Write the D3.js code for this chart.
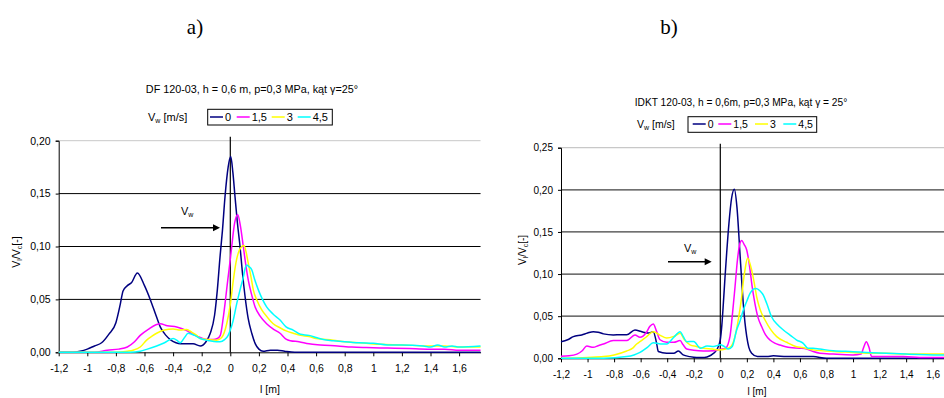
<!DOCTYPE html>
<html><head><meta charset="utf-8">
<script src="https://cdn.jsdelivr.net/npm/d3@7"></script>
<style>
body{margin:0;background:#fff;}
svg{display:block;font-family:"Liberation Sans",Arial,sans-serif;}
</style></head>
<body>
<svg id="c" width="944" height="398"></svg>
<script>
// ---------- data ----------
const seriesNames = ["0", "1,5", "3", "4,5"];
const seriesColors = ["#000080", "#FF00FF", "#FFFF00", "#00FFFF"];
const xTicks = [-1.2,-1,-0.8,-0.6,-0.4,-0.2,0,0.2,0.4,0.6,0.8,1,1.2,1.4,1.6];
const yTicksA = [0,0.05,0.10,0.15,0.20];
const yTicksB = [0,0.05,0.10,0.15,0.20,0.25];

// chart a) DF 120-03  [l (m), Vl/Vc]
const a0 = [[-1.2,0],[-1.1,0],[-1.05,0.001],[-1.0,0.003],[-0.95,0.006],[-0.9,0.009],[-0.85,0.017],[-0.8,0.028],[-0.77,0.045],[-0.75,0.058],[-0.72,0.063],[-0.69,0.066],[-0.65,0.075],[-0.6,0.063],[-0.56,0.05],[-0.52,0.035],[-0.49,0.024],[-0.45,0.016],[-0.42,0.012],[-0.38,0.009],[-0.35,0.008],[-0.3,0.008],[-0.26,0.008],[-0.21,0.006],[-0.17,0.01],[-0.14,0.018],[-0.11,0.035],[-0.09,0.06],[-0.072,0.09],[-0.055,0.115],[-0.037,0.147],[-0.015,0.175],[0.003,0.185],[0.018,0.17],[0.033,0.147],[0.05,0.122],[0.068,0.10],[0.085,0.075],[0.103,0.053],[0.125,0.032],[0.15,0.018],[0.175,0.008],[0.2,0.003],[0.23,0.001],[0.28,0.002],[0.33,0.002],[0.38,0.001],[0.45,0],[1.75,0]];
const a1 = [[-1.2,0],[-0.95,0],[-0.86,0.002],[-0.78,0.003],[-0.72,0.005],[-0.67,0.01],[-0.63,0.016],[-0.57,0.022],[-0.52,0.026],[-0.49,0.027],[-0.44,0.025],[-0.375,0.024],[-0.305,0.0205],[-0.26,0.017],[-0.21,0.014],[-0.16,0.012],[-0.12,0.012],[-0.09,0.013],[-0.07,0.016],[-0.05,0.032],[-0.035,0.048],[-0.018,0.068],[0.0,0.088],[0.01,0.10],[0.03,0.122],[0.052,0.130],[0.07,0.12],[0.091,0.10],[0.108,0.083],[0.126,0.068],[0.15,0.054],[0.173,0.043],[0.21,0.034],[0.254,0.027],[0.3,0.022],[0.348,0.018],[0.39,0.0125],[0.42,0.011],[0.48,0.010],[0.55,0.008],[0.63,0.007],[0.75,0.006],[0.85,0.005],[0.95,0.0045],[1.1,0.004],[1.25,0.0035],[1.38,0.003],[1.5,0.003],[1.6,0.002],[1.75,0.002]];
const a2 = [[-1.2,0],[-0.8,0],[-0.72,0.001],[-0.68,0.002],[-0.63,0.005],[-0.585,0.0115],[-0.55,0.015],[-0.515,0.018],[-0.46,0.021],[-0.4,0.022],[-0.35,0.021],[-0.305,0.0215],[-0.27,0.019],[-0.235,0.016],[-0.21,0.013],[-0.15,0.012],[-0.095,0.0115],[-0.06,0.014],[-0.025,0.027],[0.0,0.045],[0.021,0.068],[0.04,0.085],[0.056,0.094],[0.08,0.1],[0.096,0.101],[0.11,0.095],[0.126,0.084],[0.145,0.071],[0.161,0.059],[0.19,0.048],[0.22,0.04],[0.26,0.033],[0.3,0.027],[0.35,0.023],[0.395,0.02],[0.44,0.018],[0.49,0.016],[0.55,0.015],[0.6,0.013],[0.72,0.0115],[0.8,0.01],[0.95,0.0085],[1.05,0.0075],[1.2,0.007],[1.38,0.006],[1.5,0.006],[1.6,0.005],[1.75,0.005]];
const a3 = [[-1.2,0],[-0.7,0],[-0.63,0.001],[-0.58,0.003],[-0.515,0.006],[-0.46,0.009],[-0.4,0.013],[-0.37,0.011],[-0.35,0.009],[-0.32,0.014],[-0.295,0.018],[-0.25,0.016],[-0.21,0.013],[-0.15,0.011],[-0.095,0.01],[-0.072,0.010],[-0.04,0.012],[-0.015,0.016],[0.0,0.021],[0.02,0.03],[0.045,0.046],[0.07,0.06],[0.091,0.071],[0.105,0.08],[0.115,0.0825],[0.13,0.081],[0.15,0.078],[0.17,0.069],[0.196,0.059],[0.225,0.05],[0.254,0.043],[0.3,0.036],[0.348,0.0305],[0.39,0.024],[0.44,0.021],[0.49,0.017],[0.55,0.016],[0.6,0.014],[0.65,0.012],[0.72,0.011],[0.8,0.01],[0.9,0.009],[1.0,0.0085],[1.1,0.007],[1.2,0.007],[1.35,0.006],[1.4,0.005],[1.45,0.007],[1.5,0.005],[1.55,0.006],[1.6,0.005],[1.75,0.006]];

// chart b) IDKT 120-03
const b0 = [[-1.2,0.0197],[-1.15,0.022],[-1.107,0.0257],[-1.044,0.0277],[-1.0,0.03],[-0.957,0.0316],[-0.92,0.031],[-0.88,0.029],[-0.806,0.0277],[-0.75,0.028],[-0.705,0.028],[-0.643,0.0336],[-0.6,0.032],[-0.58,0.031],[-0.54,0.030],[-0.505,0.0316],[-0.48,0.018],[-0.467,0.008],[-0.404,0.006],[-0.35,0.006],[-0.316,0.0087],[-0.28,0.004],[-0.23,0.002],[-0.178,0.001],[-0.12,0.001],[-0.078,0.003],[-0.027,0.01],[0.0,0.022],[0.012,0.04],[0.023,0.065],[0.035,0.095],[0.048,0.125],[0.065,0.16],[0.085,0.19],[0.106,0.2007],[0.125,0.18],[0.148,0.125],[0.16,0.095],[0.173,0.065],[0.186,0.042],[0.199,0.026],[0.215,0.013],[0.236,0.006],[0.28,0.002],[0.35,0.002],[0.4,0.003],[0.5,0.002],[0.6,0.002],[0.7,0.002],[0.8,0.0],[1.75,0]];
const b1 = [[-1.2,0.0025],[-1.14,0.003],[-1.08,0.005],[-1.04,0.009],[-1.006,0.0146],[-0.957,0.013],[-0.92,0.015],[-0.88,0.017],[-0.806,0.021],[-0.75,0.021],[-0.705,0.021],[-0.643,0.0277],[-0.605,0.025],[-0.56,0.03],[-0.53,0.038],[-0.505,0.0407],[-0.48,0.032],[-0.454,0.022],[-0.404,0.019],[-0.35,0.019],[-0.303,0.021],[-0.28,0.016],[-0.253,0.011],[-0.2,0.0095],[-0.128,0.0087],[-0.05,0.009],[0.0,0.0107],[0.04,0.012],[0.073,0.026],[0.09,0.05],[0.111,0.085],[0.13,0.118],[0.148,0.1366],[0.161,0.1397],[0.18,0.135],[0.199,0.1286],[0.212,0.118],[0.224,0.105],[0.24,0.085],[0.261,0.065],[0.285,0.048],[0.312,0.0375],[0.34,0.028],[0.374,0.0217],[0.41,0.018],[0.45,0.0157],[0.525,0.0127],[0.6,0.012],[0.65,0.011],[0.7,0.008],[0.75,0.006],[0.85,0.005],[1.0,0.004],[1.06,0.005],[1.08,0.013],[1.1,0.0197],[1.12,0.013],[1.14,0.002],[1.25,0.002],[1.38,0.002],[1.5,0.001],[1.75,0.001]];
const b2 = [[-1.2,0],[-1.0,0.001],[-0.88,0.002],[-0.8,0.004],[-0.705,0.0087],[-0.66,0.012],[-0.63,0.017],[-0.605,0.0197],[-0.56,0.025],[-0.505,0.0316],[-0.45,0.027],[-0.404,0.024],[-0.35,0.026],[-0.303,0.0296],[-0.27,0.022],[-0.228,0.016],[-0.18,0.014],[-0.128,0.012],[-0.06,0.011],[-0.01,0.01],[0.04,0.011],[0.08,0.014],[0.111,0.026],[0.14,0.05],[0.161,0.073],[0.175,0.093],[0.186,0.105],[0.206,0.119],[0.22,0.114],[0.236,0.105],[0.255,0.09],[0.274,0.073],[0.3,0.058],[0.337,0.0455],[0.38,0.034],[0.425,0.0257],[0.5,0.019],[0.575,0.0138],[0.62,0.0127],[0.7,0.01],[0.877,0.0079],[1.0,0.007],[1.1,0.006],[1.25,0.006],[1.4,0.005],[1.75,0.005]];
const b3 = [[-1.2,0],[-0.88,0],[-0.705,0.002],[-0.65,0.004],[-0.605,0.007],[-0.55,0.013],[-0.505,0.0185],[-0.45,0.017],[-0.404,0.017],[-0.35,0.025],[-0.303,0.0316],[-0.28,0.026],[-0.253,0.0197],[-0.2,0.02],[-0.15,0.012],[-0.1,0.0146],[-0.05,0.014],[0.0,0.016],[0.03,0.014],[0.06,0.011],[0.09,0.014],[0.123,0.0336],[0.15,0.045],[0.173,0.057],[0.2,0.068],[0.224,0.077],[0.25,0.082],[0.269,0.083],[0.3,0.08],[0.324,0.075],[0.35,0.065],[0.387,0.049],[0.43,0.04],[0.475,0.0336],[0.53,0.027],[0.575,0.0217],[0.625,0.0178],[0.66,0.012],[0.7,0.012],[0.75,0.011],[0.85,0.009],[1.0,0.0079],[1.1,0.007],[1.25,0.006],[1.4,0.005],[1.65,0.004],[1.75,0.004]];

const titleA = "DF 120-03, h = 0,6 m, p=0,3 MPa, kąt γ=25°";
const titleB = "IDKT 120-03, h = 0,6m, p=0,3 MPa, kąt γ = 25°";

// ---------- drawing ----------
const svg = d3.select("#c");
const fmtX = d => String(+d.toFixed(1)).replace(".", ",");
const fmtY = d => d.toFixed(2).replace(".", ",");

svg.append("text").attr("x",195).attr("y",34).attr("text-anchor","middle")
  .attr("font-family","'Liberation Serif','Times New Roman',serif").attr("font-size",21).text("a)");
svg.append("text").attr("x",669).attr("y",34).attr("text-anchor","middle")
  .attr("font-family","'Liberation Serif','Times New Roman',serif").attr("font-size",21).text("b)");

function drawChart(cfg){
  const x = d3.scaleLinear().domain([-1.2,1.75]).range([cfg.x0, cfg.x0 + 2.95*cfg.pxPerUnit]);
  const y = d3.scaleLinear().domain([0, cfg.ymax]).range([cfg.yBottom, cfg.yTop]);
  const g = svg.append("g");
  cfg.yTicks.forEach(t => {
    if (t === 0) return;
    g.append("line").attr("x1",x(-1.2)).attr("x2",x(1.75)).attr("y1",y(t)).attr("y2",y(t))
      .attr("stroke", t === cfg.ymax ? "#c8c8c8" : cfg.gridColor).attr("stroke-width", cfg.gridW);
  });
  const ya = d3.axisLeft(y).tickValues(cfg.yTicks).tickFormat(fmtY).tickSize(3).tickPadding(5);
  const yg = g.append("g").attr("transform",`translate(${x(-1.2)},0)`).call(ya);
  yg.select(".domain").attr("stroke","#000");
  yg.selectAll("text").attr("font-size",cfg.tickFs).attr("fill","#000").attr("font-family","'Liberation Sans',Arial,sans-serif");
  const xa = d3.axisBottom(x).tickValues(xTicks).tickFormat(fmtX).tickSize(4).tickPadding(cfg.xPad).tickSizeOuter(0);
  const xg = g.append("g").attr("transform",`translate(0,${y(0)})`).call(xa);
  xg.selectAll("text").attr("font-size",cfg.tickFs).attr("fill","#000").attr("font-family","'Liberation Sans',Arial,sans-serif");
  g.append("line").attr("x1",x(0)).attr("x2",x(0)).attr("y1",cfg.yTop-4).attr("y2",y(0))
    .attr("stroke","#000").attr("stroke-width",1.2);
  const line = d3.line().x(d=>x(d[0])).y(d=>y(d[1])).curve(d3.curveMonotoneX);
  cfg.series.forEach((s,i) => {
    g.append("path").datum(s).attr("d",line).attr("fill","none")
      .attr("stroke",seriesColors[i]).attr("stroke-width",1.5);
  });
  g.append("line").attr("x1",cfg.arrow[0]).attr("x2",cfg.arrow[1]-5).attr("y1",cfg.arrow[2]).attr("y2",cfg.arrow[2])
    .attr("stroke","#000").attr("stroke-width",1.5);
  g.append("path").attr("d",`M${cfg.arrow[1]},${cfg.arrow[2]} l-7,-3.5 v7 z`).attr("fill","#000");
  const vw = g.append("text").attr("x",cfg.vwPos[0]).attr("y",cfg.vwPos[1]).attr("font-size",11).text("V");
  vw.append("tspan").attr("font-size",7).attr("dy",2).text("w");
  g.append("text").attr("x",cfg.titlePos[0]).attr("y",cfg.titlePos[1]).attr("text-anchor","middle")
    .attr("font-size",cfg.titleFs).text(cfg.title);
  g.append("text").attr("x",cfg.xTitlePos[0]).attr("y",cfg.xTitlePos[1]).attr("text-anchor","middle")
    .attr("font-size",cfg.tickFs).text("l [m]");
  const yt = g.append("text").attr("transform",`translate(${cfg.yTitlePos[0]},${cfg.yTitlePos[1]}) rotate(-90)`)
    .attr("text-anchor","middle").attr("font-size",cfg.tickFs);
  yt.append("tspan").text("V");
  yt.append("tspan").attr("font-size",7).attr("dy",2).text("l");
  yt.append("tspan").attr("dy",-2).text("/V");
  yt.append("tspan").attr("font-size",7).attr("dy",2).text("c");
  yt.append("tspan").attr("dy",-2).text("[-]");
  const lg = cfg.legend;
  const lt = g.append("text").attr("x",lg.labelX).attr("y",lg.base).attr("font-size",lg.fs).text("V");
  lt.append("tspan").attr("font-size",7).attr("dy",2).text("w");
  lt.append("tspan").attr("dy",-2).text(" [m/s]");
  g.append("rect").attr("x",lg.box[0]).attr("y",lg.box[1]).attr("width",lg.box[2]).attr("height",lg.box[3])
    .attr("fill","#fff").attr("stroke","#000").attr("stroke-width",1);
  seriesNames.forEach((n,i) => {
    const lx = lg.items[i];
    g.append("line").attr("x1",lx).attr("x2",lx+lg.lineLen).attr("y1",lg.base-4).attr("y2",lg.base-4)
      .attr("stroke",seriesColors[i]).attr("stroke-width",1.5);
    g.append("text").attr("x",lx+lg.lineLen+2).attr("y",lg.base).attr("font-size",lg.fs).text(n);
  });
}

drawChart({
  x0:58.7, pxPerUnit:143, ymax:0.20, yTop:140.7, yBottom:352.3, yTicks:yTicksA,
  gridColor:"#000", gridW:1, tickFs:10.5, xPad:8,
  series:[a0,a1,a2,a3],
  arrow:[161,220,227.7], vwPos:[181,215],
  title:titleA, titlePos:[252,92.5], titleFs:10.8,
  xTitlePos:[270,393], yTitlePos:[20,252],
  legend:{labelX:148, base:121, fs:11, box:[207.7,109.3,124.6,15.7], items:[210,236.7,271.7,297.7], lineLen:13}
});
drawChart({
  x0:561, pxPerUnit:132.75, ymax:0.25, yTop:147.7, yBottom:358.3, yTicks:yTicksB,
  gridColor:"#404040", gridW:1.3, tickFs:10, xPad:9,
  series:[b0,b1,b2,b3],
  arrow:[668,711.7,261.7], vwPos:[684,251.5],
  title:titleB, titlePos:[741,105.5], titleFs:10.2,
  xTitlePos:[757,395], yTitlePos:[526,250],
  legend:{labelX:637, base:128, fs:10.5, box:[688,116.7,128.7,15.6], items:[692.7,718.3,755,783.3], lineLen:13}
});
</script>
</body></html>
